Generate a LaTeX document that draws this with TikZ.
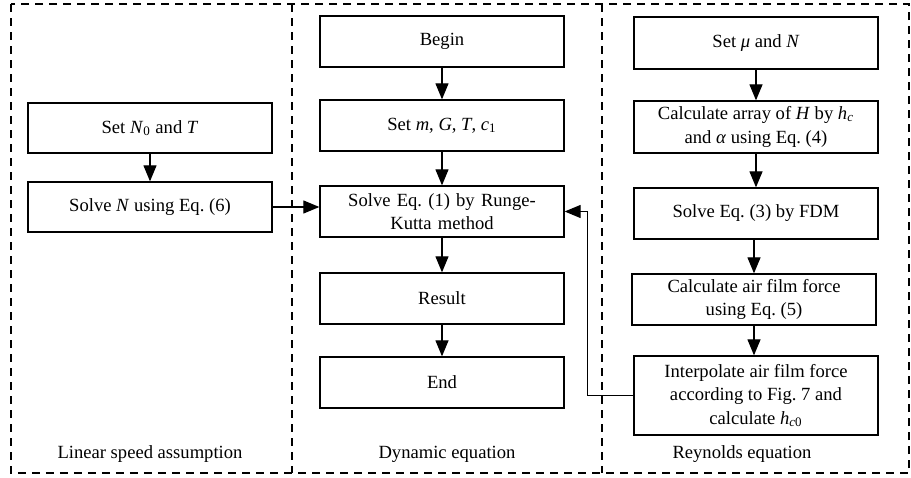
\documentclass[tikz,border=0pt]{standalone}
\usepackage{fontspec}
\setmainfont{Liberation Serif}
\usepackage{tikz}
\usetikzlibrary{arrows.meta,calc}
\newcommand{\var}[1]{\textit{#1}}
\frenchspacing

\begin{document}
\begin{tikzpicture}[x=0.5pt, y=-0.5pt,
    every node/.style={font=\fontsize{9.3}{11.8}\selectfont},
    procbox/.style={draw, line width=0.65pt, minimum width=122pt, minimum height=25.5pt, align=center, inner sep=1pt},
    flow/.style={-{Triangle[length=8pt,width=6.5pt]}, line width=0.6pt},
    region/.style={dash pattern=on 3.8pt off 3.2pt, line width=0.6pt}]
    \useasboundingbox (0,0) rectangle (911,477);
    % dashed regions
    \draw[region] (11,4) rectangle (909,473);
    \draw[region] (292,4) -- (292,473);
    \draw[region] (602,4) -- (602,473);
    \node (labLin) at (150,454) {Linear speed assumption};
    \node (labDyn) at (447,454) {Dynamic equation};
    \node (labRey) at (742,454) {Reynolds equation};
    % linear speed assumption
    \node[procbox, minimum height=25pt] (setN) at (150,128) {Set \var{N}\textsubscript{0} and \var{T}};
    \node[procbox, minimum height=25pt] (solveN) at (150,207) {Solve \var{N} using Eq. (6)};
    % dynamic equation
    \node[procbox] (begin) at (442,41.5) {Begin};
    \node[procbox] (setm) at (442,125.5) {Set \var{m}, \var{G}, \var{T}, \var{c}\textsubscript{1}};
    \node[procbox, text width=116pt] (solveRK) at (442,211.5) {Solve Eq. (1) by Runge-\\Kutta method};
    \node[procbox] (result) at (442,298.5) {Result};
    \node[procbox] (endbox) at (442,382.5) {End};
    % reynolds equation
    \node[procbox, minimum height=26pt] (setmu) at (756,43) {Set \var{μ} and \var{N}};
    \node[procbox, minimum height=26pt] (calcH) at (756,127) {Calculate array of \var{H} by \var{h}\textsubscript{\var{c}}\\and \var{α} using Eq. (4)};
    \node[procbox] (solveFDM) at (756,213.5) {Solve Eq. (3) by FDM};
    \node[procbox] (calcF) at (754,299.5) {Calculate air film force\\using Eq. (5)};
    \node[procbox, minimum height=39.5pt] (interp) at (756,395.5) {Interpolate air film force\\according to Fig. 7 and\\calculate \var{h}\textsubscript{\var{c}0}};
    % connectors
    \draw[flow] (setN) -- (solveN);
    \draw[flow] (begin) -- (setm);
    \draw[flow] (setm) -- (solveRK);
    \draw[flow] (solveRK) -- (result);
    \draw[flow] (result) -- (endbox);
    \draw[flow] (setmu) -- (calcH);
    \draw[flow] (calcH) -- (solveFDM);
    \draw[flow] (solveFDM.south -| calcF.north) -- (calcF.north);
    \draw[flow] (calcF.south) -- (calcF.south |- interp.north);
    \draw[flow] (solveN.east) -- (solveN.east -| solveRK.west);
    \coordinate (turn) at ($(interp.west)+(-46,0)$);
    \draw[flow] (interp.west) -- (turn) |- (solveRK.east);
\end{tikzpicture}
\end{document}
